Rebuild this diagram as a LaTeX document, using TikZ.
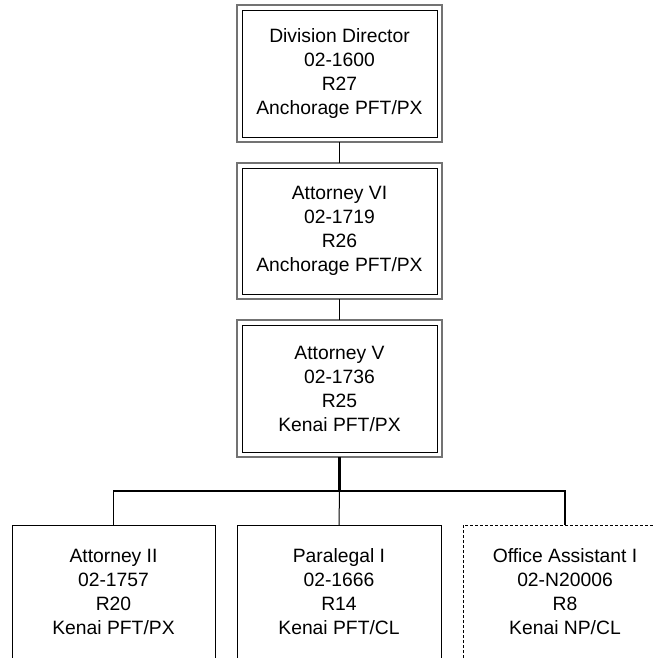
\documentclass[tikz,border=0pt]{standalone}
\usepackage{fontspec}
\setmainfont{Liberation Sans}
\begin{document}
\begin{tikzpicture}[x=1pt,y=-1pt,
  txt/.style={align=center,font=\fontsize{19.3}{24}\selectfont,inner sep=0pt},
  dbl/.style={draw=black!55,line width=1.6pt},
  dblin/.style={draw=black,line width=0.9pt},
  single/.style={draw=black,line width=0.9pt},
  dashbox/.style={draw=black,line width=0.8pt,dashed,dash pattern=on 3pt off 2pt},
  conn/.style={draw=black,line width=1pt},
  bus/.style={draw=black,line width=1.6pt}]
\useasboundingbox (0,0) rectangle (653,658);
\clip (0,0) rectangle (653,658);
% top box
\draw[dbl] (237,5) rectangle (442,142);
\draw[dblin] (242,10) rectangle (437,137);
\node[txt] (dd) at (339.5,73.5) {Division Director\\02-1600\\R27\\Anchorage PFT/PX};
\coordinate (ddb) at (339.5,142);
% second box
\draw[dbl] (237,163) rectangle (442,299);
\draw[dblin] (242,168) rectangle (437,294);
\node[txt] (a6) at (339.5,231) {Attorney VI\\02-1719\\R26\\Anchorage PFT/PX};
\coordinate (a6t) at (339.5,163);
\coordinate (a6b) at (339.5,299);
% third box
\draw[dbl] (237,320) rectangle (442,457);
\draw[dblin] (242,325) rectangle (437,452);
\node[txt] (a5) at (339.5,388.5) {Attorney V\\02-1736\\R25\\Kenai PFT/PX};
\coordinate (a5t) at (339.5,320);
\coordinate (a5b) at (339.5,457);
% bottom boxes
\draw[single] (12,525) rectangle (215,670);
\node[txt] (a2) at (113.5,592) {Attorney II\\02-1757\\R20\\Kenai PFT/PX};
\draw[single] (237,525) rectangle (441,670);
\node[txt] (pl) at (339,592) {Paralegal I\\02-1666\\R14\\Kenai PFT/CL};
\draw[dashbox] (463.5,525) rectangle (668,670);
\node[txt] (oa) at (565,592) {Office Assistant I\\02-N20006\\R8\\Kenai NP/CL};
\coordinate (a2t) at (113.5,525);
\coordinate (plt) at (339,525);
\coordinate (oat) at (565,525);
\coordinate (jn) at (339.5,491);
% connectors
\draw[conn] (ddb) -- (a6t);
\draw[conn] (a6b) -- (a5t);
\draw[line width=2.2pt] (a5b) -- (jn);
\draw[bus] (a2t) |- (jn) -| (oat);
\draw[conn] (jn) -- (plt);
\end{tikzpicture}
\end{document}
